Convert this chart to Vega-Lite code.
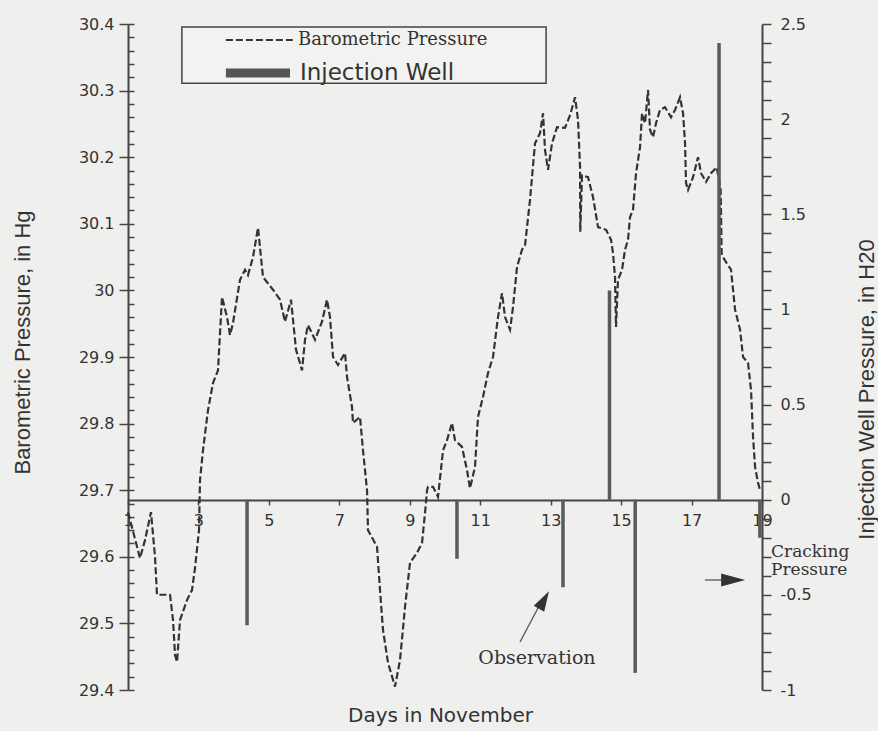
{
  "$schema": "https://vega.github.io/schema/vega-lite/v6.json",
  "width": 634,
  "height": 666,
  "autosize": {"type": "none"},
  "padding": {"left": 128, "top": 24, "right": 116, "bottom": 41},
  "background": "#efefed",
  "config": {
    "view": {"stroke": null},
    "axis": {
      "grid": false,
      "labelFont": "DejaVu Sans",
      "labelFontSize": 16,
      "labelColor": "#333333",
      "domainColor": "#444444",
      "domainWidth": 2,
      "tickColor": "#444444",
      "tickWidth": 1.5,
      "titleFont": "Liberation Sans Narrow, Liberation Sans, sans-serif",
      "titleFontWeight": "normal",
      "titleFontSize": 22,
      "titleColor": "#333333",
      "labelOverlap": false,
      "labelFlush": false
    }
  },
  "datasets": {
    "baro": [
      {"day": 1.000, "baro": 29.667}, {"day": 1.341, "baro": 29.598}, {"day": 1.483, "baro": 29.625},
      {"day": 1.653, "baro": 29.667}, {"day": 1.767, "baro": 29.600}, {"day": 1.823, "baro": 29.543},
      {"day": 2.193, "baro": 29.543}, {"day": 2.278, "baro": 29.505}, {"day": 2.335, "baro": 29.453},
      {"day": 2.392, "baro": 29.442}, {"day": 2.477, "baro": 29.505}, {"day": 2.675, "baro": 29.535},
      {"day": 2.817, "baro": 29.550}, {"day": 2.902, "baro": 29.583}, {"day": 3.016, "baro": 29.640},
      {"day": 3.044, "baro": 29.715}, {"day": 3.129, "baro": 29.760}, {"day": 3.271, "baro": 29.820},
      {"day": 3.413, "baro": 29.861}, {"day": 3.555, "baro": 29.880}, {"day": 3.669, "baro": 29.990},
      {"day": 3.811, "baro": 29.960}, {"day": 3.896, "baro": 29.933}, {"day": 3.981, "baro": 29.951},
      {"day": 4.180, "baro": 30.016}, {"day": 4.322, "baro": 30.031}, {"day": 4.407, "baro": 30.023},
      {"day": 4.549, "baro": 30.050}, {"day": 4.691, "baro": 30.094}, {"day": 4.833, "baro": 30.020},
      {"day": 5.117, "baro": 30.001}, {"day": 5.316, "baro": 29.986}, {"day": 5.458, "baro": 29.953},
      {"day": 5.628, "baro": 29.986}, {"day": 5.770, "baro": 29.911}, {"day": 5.941, "baro": 29.880},
      {"day": 6.026, "baro": 29.926}, {"day": 6.111, "baro": 29.948}, {"day": 6.310, "baro": 29.926},
      {"day": 6.508, "baro": 29.953}, {"day": 6.650, "baro": 29.986}, {"day": 6.735, "baro": 29.960},
      {"day": 6.821, "baro": 29.900}, {"day": 6.963, "baro": 29.888}, {"day": 7.161, "baro": 29.906},
      {"day": 7.218, "baro": 29.870}, {"day": 7.360, "baro": 29.825}, {"day": 7.388, "baro": 29.801},
      {"day": 7.587, "baro": 29.810}, {"day": 7.672, "baro": 29.760}, {"day": 7.786, "baro": 29.700},
      {"day": 7.814, "baro": 29.640}, {"day": 8.070, "baro": 29.615}, {"day": 8.155, "baro": 29.550},
      {"day": 8.240, "baro": 29.490}, {"day": 8.382, "baro": 29.441}, {"day": 8.581, "baro": 29.405},
      {"day": 8.723, "baro": 29.445}, {"day": 8.865, "baro": 29.525}, {"day": 9.007, "baro": 29.591},
      {"day": 9.206, "baro": 29.606}, {"day": 9.348, "baro": 29.621}, {"day": 9.433, "baro": 29.666},
      {"day": 9.490, "baro": 29.700}, {"day": 9.518, "baro": 29.705}, {"day": 9.660, "baro": 29.705},
      {"day": 9.802, "baro": 29.690}, {"day": 9.944, "baro": 29.760}, {"day": 10.057, "baro": 29.775},
      {"day": 10.199, "baro": 29.801}, {"day": 10.284, "baro": 29.775}, {"day": 10.483, "baro": 29.765},
      {"day": 10.625, "baro": 29.730}, {"day": 10.710, "baro": 29.703}, {"day": 10.852, "baro": 29.735},
      {"day": 10.937, "baro": 29.810}, {"day": 11.079, "baro": 29.840}, {"day": 11.221, "baro": 29.876},
      {"day": 11.363, "baro": 29.900}, {"day": 11.505, "baro": 29.960}, {"day": 11.619, "baro": 29.996},
      {"day": 11.704, "baro": 29.960}, {"day": 11.846, "baro": 29.941}, {"day": 11.931, "baro": 29.975},
      {"day": 12.045, "baro": 30.035}, {"day": 12.187, "baro": 30.061}, {"day": 12.272, "baro": 30.068},
      {"day": 12.414, "baro": 30.136}, {"day": 12.556, "baro": 30.221}, {"day": 12.698, "baro": 30.236},
      {"day": 12.783, "baro": 30.266}, {"day": 12.840, "baro": 30.211}, {"day": 12.925, "baro": 30.181},
      {"day": 13.039, "baro": 30.221}, {"day": 13.180, "baro": 30.245}, {"day": 13.408, "baro": 30.244},
      {"day": 13.550, "baro": 30.263}, {"day": 13.692, "baro": 30.290}, {"day": 13.777, "baro": 30.256},
      {"day": 13.834, "baro": 30.185}, {"day": 13.840, "baro": 30.088}, {"day": 13.890, "baro": 30.173},
      {"day": 14.061, "baro": 30.170}, {"day": 14.203, "baro": 30.140}, {"day": 14.345, "baro": 30.095},
      {"day": 14.572, "baro": 30.091}, {"day": 14.714, "baro": 30.076}, {"day": 14.770, "baro": 30.056},
      {"day": 14.827, "baro": 30.020}, {"day": 14.855, "baro": 29.945}, {"day": 14.912, "baro": 30.016},
      {"day": 15.026, "baro": 30.031}, {"day": 15.111, "baro": 30.061}, {"day": 15.196, "baro": 30.076},
      {"day": 15.253, "baro": 30.110}, {"day": 15.338, "baro": 30.121}, {"day": 15.424, "baro": 30.176},
      {"day": 15.537, "baro": 30.215}, {"day": 15.594, "baro": 30.266}, {"day": 15.679, "baro": 30.251},
      {"day": 15.764, "baro": 30.301}, {"day": 15.821, "baro": 30.241}, {"day": 15.906, "baro": 30.230},
      {"day": 15.991, "baro": 30.251}, {"day": 16.105, "baro": 30.271}, {"day": 16.247, "baro": 30.275},
      {"day": 16.417, "baro": 30.260}, {"day": 16.531, "baro": 30.271}, {"day": 16.673, "baro": 30.290},
      {"day": 16.758, "baro": 30.266}, {"day": 16.815, "baro": 30.221}, {"day": 16.843, "baro": 30.161},
      {"day": 16.900, "baro": 30.151}, {"day": 17.042, "baro": 30.170}, {"day": 17.184, "baro": 30.200},
      {"day": 17.269, "baro": 30.176}, {"day": 17.411, "baro": 30.163}, {"day": 17.553, "baro": 30.176},
      {"day": 17.713, "baro": 30.185}, {"day": 17.826, "baro": 30.151}, {"day": 17.855, "baro": 30.053},
      {"day": 17.997, "baro": 30.041}, {"day": 18.121, "baro": 30.031}, {"day": 18.235, "baro": 29.971},
      {"day": 18.377, "baro": 29.941}, {"day": 18.462, "baro": 29.900}, {"day": 18.604, "baro": 29.891},
      {"day": 18.689, "baro": 29.850}, {"day": 18.746, "baro": 29.780}, {"day": 18.803, "baro": 29.735},
      {"day": 18.888, "baro": 29.711}, {"day": 18.945, "baro": 29.700}
    ],
    "well": [
      {"day": 4.38, "inj": -0.66},
      {"day": 10.34, "inj": -0.31},
      {"day": 13.35, "inj": -0.46},
      {"day": 14.67, "inj": 1.10},
      {"day": 15.40, "inj": -0.91},
      {"day": 17.78, "inj": 2.40},
      {"day": 18.94, "inj": -0.20}
    ]
  },
  "resolve": {"scale": {"y": "independent"}, "axis": {"y": "independent"}},
  "layer": [
    {
      "data": {"name": "baro"},
      "mark": {"type": "line", "strokeDash": [7, 3], "strokeWidth": 2.2, "color": "#333333"},
      "encoding": {
        "x": {
          "field": "day", "type": "quantitative",
          "scale": {"domain": [1, 19], "nice": false, "zero": false},
          "axis": {
            "values": [1, 2, 3, 4, 5, 6, 7, 8, 9, 10, 11, 12, 13, 14, 15, 16, 17, 18, 19],
            "labelExpr": "datum.value % 2 == 1 ? toString(datum.value) : ''",
            "offset": -190,
            "tickSize": 5,
            "labelPadding": 7,
            "labelFontSize": 16,
            "title": "Days in November",
            "titleFont": "DejaVu Sans",
            "titleFontSize": 20,
            "titleX": 312,
            "titleY": 215,
            "titleBaseline": "middle"
          }
        },
        "y": {
          "field": "baro", "type": "quantitative",
          "scale": {"domain": [29.4, 30.4], "nice": false, "zero": false},
          "axis": {
            "orient": "left",
            "values": [29.4, 29.5, 29.6, 29.7, 29.8, 29.9, 30.0, 30.1, 30.2, 30.3, 30.4],
            "labelExpr": "toString(round(datum.value * 10) / 10)",
            "tickSize": 9,
            "labelPadding": 5,
            "title": "Barometric Pressure, in Hg",
            "titleAngle": 270,
            "titleBaseline": "middle",
            "titleX": -106,
            "titleY": 318
          }
        }
      }
    },
    {
      "data": {"values": [{"day": 2.53, "day2": 12.87, "baro": 30.3955, "baro2": 30.311}]},
      "mark": {"type": "rect", "fill": "#f2f2f0", "stroke": "#444444", "strokeWidth": 1.5},
      "encoding": {
        "x": {"field": "day", "type": "quantitative"},
        "x2": {"field": "day2"},
        "y": {
          "field": "baro", "type": "quantitative",
          "scale": {"domain": [29.4, 30.4], "nice": false, "zero": false},
          "axis": {
            "orient": "left",
            "values": [29.4, 29.42, 29.44, 29.46, 29.48, 29.5, 29.52, 29.54, 29.56, 29.58, 29.6, 29.62, 29.64, 29.66, 29.68, 29.7, 29.72, 29.74, 29.76, 29.78, 29.8, 29.82, 29.84, 29.86, 29.88, 29.9, 29.92, 29.94, 29.96, 29.98, 30.0, 30.02, 30.04, 30.06, 30.08, 30.1, 30.12, 30.14, 30.16, 30.18, 30.2, 30.22, 30.24, 30.26, 30.28, 30.3, 30.32, 30.34, 30.36, 30.38, 30.4],
            "tickSize": -6,
            "labels": false,
            "domain": false,
            "title": null
          }
        },
        "y2": {"field": "baro2"}
      }
    },
    {
      "data": {"values": [{"day": 3.78, "day2": 5.68, "baro": 30.376}]},
      "mark": {"type": "rule", "strokeDash": [7, 3], "strokeWidth": 2.2, "color": "#333333"},
      "encoding": {
        "x": {"field": "day", "type": "quantitative"},
        "x2": {"field": "day2"},
        "y": {"field": "baro", "type": "quantitative", "scale": {"domain": [29.4, 30.4], "nice": false, "zero": false}, "axis": null}
      }
    },
    {
      "data": {"values": [{"day": 3.78, "day2": 5.6, "baro": 30.3264}]},
      "mark": {"type": "rule", "strokeWidth": 9, "color": "#555555"},
      "encoding": {
        "x": {"field": "day", "type": "quantitative"},
        "x2": {"field": "day2"},
        "y": {"field": "baro", "type": "quantitative", "scale": {"domain": [29.4, 30.4], "nice": false, "zero": false}, "axis": null}
      }
    },
    {
      "data": {"values": [{"day": 5.83, "baro": 30.376, "label": "Barometric Pressure"}]},
      "mark": {"type": "text", "align": "left", "baseline": "middle", "font": "DejaVu Serif", "fontSize": 18, "color": "#333333"},
      "encoding": {
        "x": {"field": "day", "type": "quantitative"},
        "y": {"field": "baro", "type": "quantitative", "scale": {"domain": [29.4, 30.4], "nice": false, "zero": false}, "axis": null},
        "text": {"field": "label"}
      }
    },
    {
      "data": {"values": [{"day": 5.88, "baro": 30.3264, "label": "Injection Well"}]},
      "mark": {"type": "text", "align": "left", "baseline": "middle", "font": "DejaVu Sans", "fontSize": 23, "color": "#333333"},
      "encoding": {
        "x": {"field": "day", "type": "quantitative"},
        "y": {"field": "baro", "type": "quantitative", "scale": {"domain": [29.4, 30.4], "nice": false, "zero": false}, "axis": null},
        "text": {"field": "label"}
      }
    },
    {
      "data": {"name": "well"},
      "mark": {"type": "rule", "strokeWidth": 3.5, "color": "#5a5a5a"},
      "encoding": {
        "x": {"field": "day", "type": "quantitative"},
        "y": {
          "field": "inj", "type": "quantitative",
          "scale": {"domain": [-1, 2.5], "nice": false, "zero": false},
          "axis": {
            "orient": "right",
            "values": [-1.0, -0.9, -0.8, -0.7, -0.6, -0.5, -0.4, -0.3, -0.2, -0.1, 0.0, 0.1, 0.2, 0.3, 0.4, 0.5, 0.6, 0.7, 0.8, 0.9, 1.0, 1.1, 1.2, 1.3, 1.4, 1.5, 1.6, 1.7, 1.8, 1.9, 2.0, 2.1, 2.2, 2.3, 2.4, 2.5],
            "labelExpr": "round(datum.value * 10) % 5 == 0 ? toString(round(datum.value * 10) / 10) : ''",
            "tickSize": 9,
            "labelPadding": 9,
            "title": "Injection Well Pressure, in H20",
            "titleAngle": 270,
            "titleBaseline": "middle",
            "titleX": 104,
            "titleY": 365
          }
        },
        "y2": {"datum": 0}
      }
    },
    {
      "data": {"values": [
        {"day": 12.13, "inj": -0.748, "day2": 12.64, "inj2": -0.569},
        {"day": 17.38, "inj": -0.422, "day2": 17.86, "inj2": -0.422}
      ]},
      "mark": {"type": "rule", "strokeWidth": 1.3, "color": "#555555"},
      "encoding": {
        "x": {"field": "day", "type": "quantitative"},
        "y": {"field": "inj", "type": "quantitative", "scale": {"domain": [-1, 2.5], "nice": false, "zero": false}, "axis": null},
        "x2": {"field": "day2"},
        "y2": {"field": "inj2"}
      }
    },
    {
      "data": {"values": [{"day": 12.81, "inj": -0.527}]},
      "mark": {"type": "point", "shape": "M0,-1L0.6,1L-0.6,1Z", "size": 400, "angle": 30, "filled": true, "color": "#333333", "opacity": 1},
      "encoding": {
        "x": {"field": "day", "type": "quantitative"},
        "y": {"field": "inj", "type": "quantitative", "scale": {"domain": [-1, 2.5], "nice": false, "zero": false}, "axis": null}
      }
    },
    {
      "data": {"values": [{"day": 18.18, "inj": -0.422}]},
      "mark": {"type": "point", "shape": "M0,-1L0.55,1L-0.55,1Z", "size": 576, "angle": 90, "filled": true, "color": "#333333", "opacity": 1},
      "encoding": {
        "x": {"field": "day", "type": "quantitative"},
        "y": {"field": "inj", "type": "quantitative", "scale": {"domain": [-1, 2.5], "nice": false, "zero": false}, "axis": null}
      }
    },
    {
      "data": {"values": [{"day": 12.61, "inj": -0.83, "label": "Observation"}]},
      "mark": {"type": "text", "align": "center", "baseline": "middle", "font": "DejaVu Serif", "fontSize": 19, "color": "#333333"},
      "encoding": {
        "x": {"field": "day", "type": "quantitative"},
        "y": {"field": "inj", "type": "quantitative", "scale": {"domain": [-1, 2.5], "nice": false, "zero": false}, "axis": null},
        "text": {"field": "label"}
      }
    },
    {
      "data": {"values": [{"day": 19, "inj": -0.235, "label": "Cracking\nPressure"}]},
      "mark": {"type": "text", "align": "left", "baseline": "top", "dx": 9, "lineBreak": "\n", "lineHeight": 18, "font": "DejaVu Serif", "fontSize": 17, "color": "#333333"},
      "encoding": {
        "x": {"field": "day", "type": "quantitative"},
        "y": {"field": "inj", "type": "quantitative", "scale": {"domain": [-1, 2.5], "nice": false, "zero": false}, "axis": null},
        "text": {"field": "label"}
      }
    }
  ]
}
